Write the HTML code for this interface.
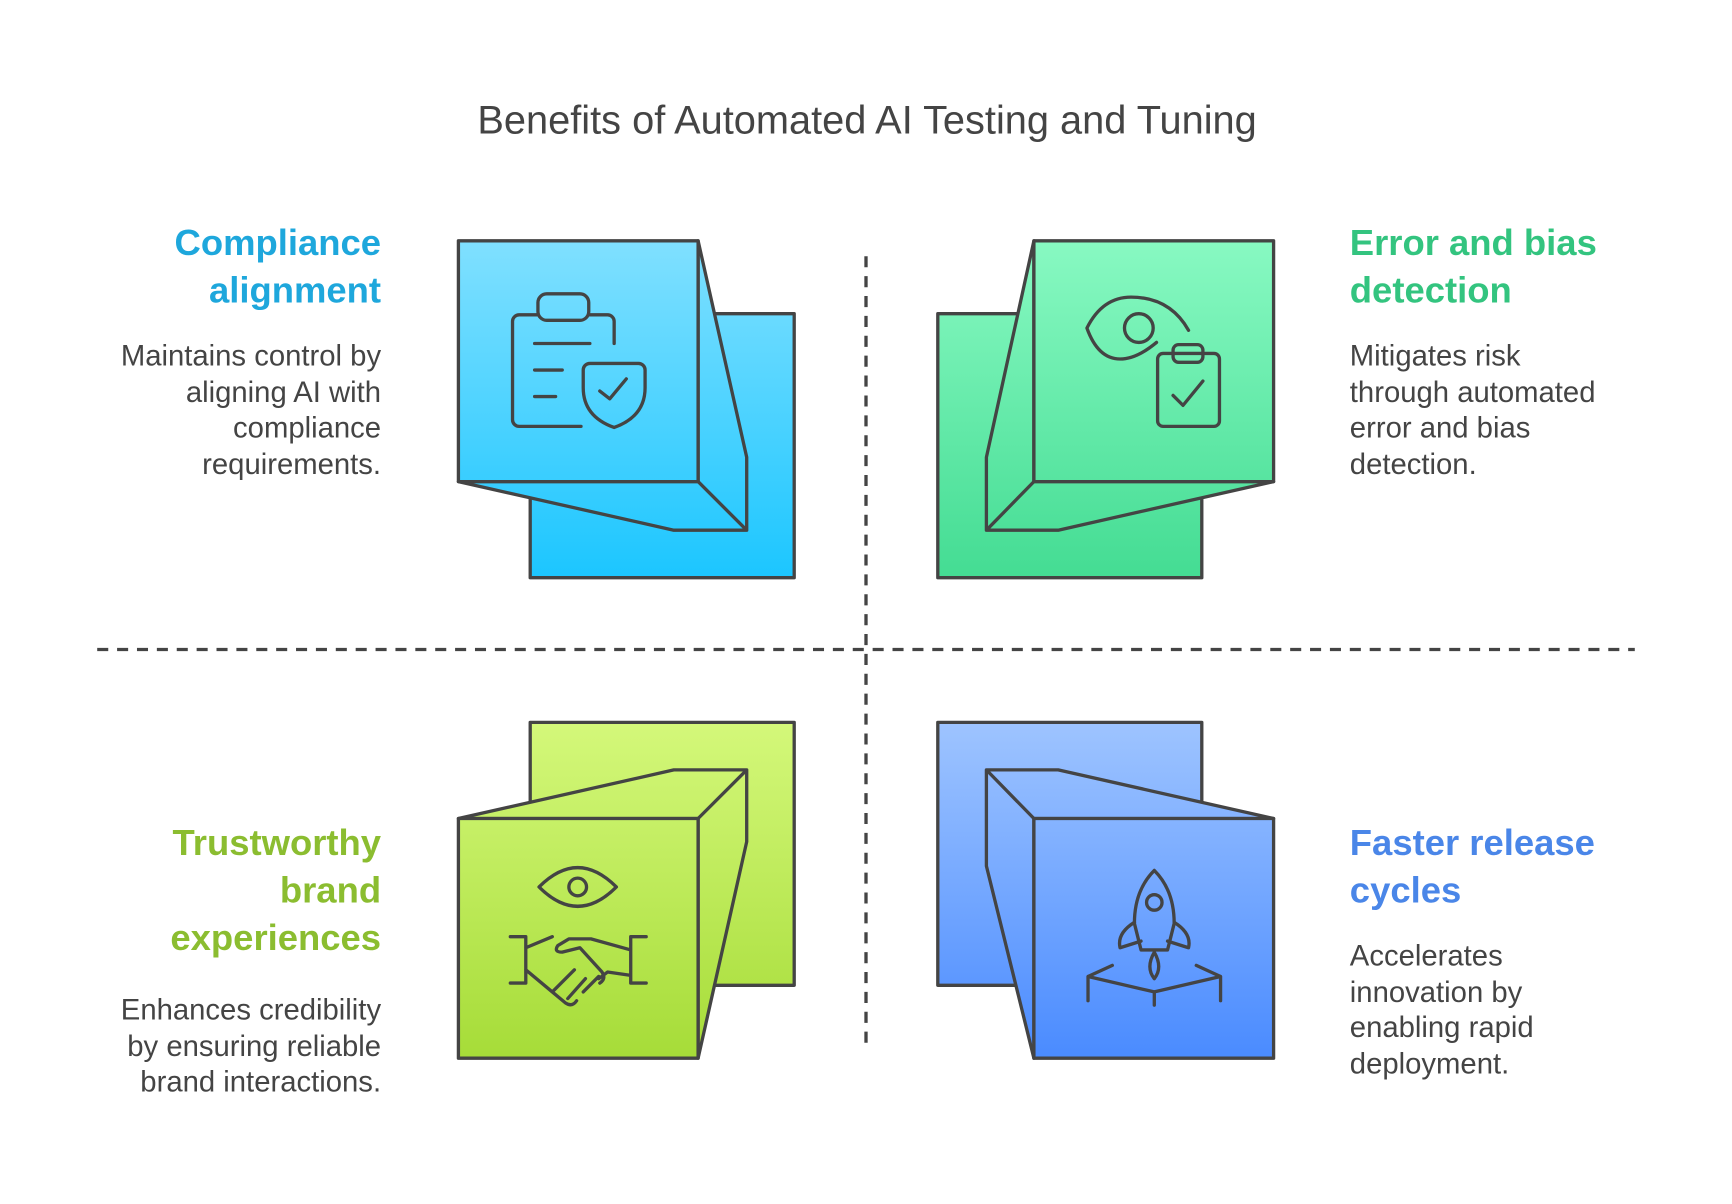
<!DOCTYPE html>
<html><head><meta charset="utf-8"><style>html,body{margin:0;padding:0;background:#fff}svg{display:block}</style></head>
<body>
<svg width="1732" height="1204" viewBox="0 0 1568 1090" xmlns="http://www.w3.org/2000/svg" font-family="Liberation Sans, sans-serif">
<defs>
<linearGradient id="gb" gradientUnits="userSpaceOnUse" x1="0" y1="218" x2="0" y2="523"><stop offset="0" stop-color="#80e0ff"/><stop offset="1" stop-color="#1cc6ff"/></linearGradient>
<linearGradient id="gg" gradientUnits="userSpaceOnUse" x1="0" y1="218" x2="0" y2="523"><stop offset="0" stop-color="#88f9c2"/><stop offset="1" stop-color="#44dc93"/></linearGradient>
<linearGradient id="gl" gradientUnits="userSpaceOnUse" x1="0" y1="654" x2="0" y2="958"><stop offset="0" stop-color="#d4f87a"/><stop offset="1" stop-color="#a6dc38"/></linearGradient>
<linearGradient id="gr" gradientUnits="userSpaceOnUse" x1="0" y1="654" x2="0" y2="958"><stop offset="0" stop-color="#9ec4ff"/><stop offset="1" stop-color="#4a8bff"/></linearGradient>
</defs>
<text x="785" y="121" text-anchor="middle" font-size="36" fill="#444">Benefits of Automated AI Testing and Tuning</text>
<g stroke="#444" stroke-width="3" stroke-dasharray="10 8" fill="none">
<line x1="784" y1="232" x2="784" y2="945"/><line x1="88" y1="588" x2="1480" y2="588"/>
</g>
<g stroke="#444" stroke-width="3" stroke-linejoin="round">
<rect x="480" y="284" width="239" height="239" fill="url(#gb)"/>
<polygon points="632,218 676,414 676,480 610,480 415,436 632,436" fill="url(#gb)"/>
<rect x="415" y="218" width="217" height="218" fill="url(#gb)"/>
<line x1="632" y1="436" x2="676" y2="480"/>
<rect x="849" y="284" width="239" height="239" fill="url(#gg)"/>
<polygon points="936,218 893,414 893,480 958,480 1153,436 936,436" fill="url(#gg)"/>
<rect x="936" y="218" width="217" height="218" fill="url(#gg)"/>
<line x1="936" y1="436" x2="893" y2="480"/>
<rect x="480" y="654" width="239" height="238" fill="url(#gl)"/>
<polygon points="415,741 610,697 676,697 676,762 632,958 632,741" fill="url(#gl)"/>
<rect x="415" y="741" width="217" height="217" fill="url(#gl)"/>
<line x1="632" y1="741" x2="676" y2="697"/>
<rect x="849" y="654" width="239" height="238" fill="url(#gr)"/>
<polygon points="1153,741 958,697 893,697 893,784 936,958 936,741" fill="url(#gr)"/>
<rect x="936" y="741" width="217" height="217" fill="url(#gr)"/>
<line x1="936" y1="741" x2="893" y2="697"/>
</g>
<g stroke="#444" stroke-width="3" fill="none" stroke-linecap="round" stroke-linejoin="round">
<path d="M533,285 h17 a6,6 0 0 1 6,6 v20"/>
<path d="M487,285 h-17 a6,6 0 0 0 -6,6 v89 a6,6 0 0 0 6,6 h56"/>
<rect x="487" y="266" width="46" height="24" rx="8"/>
<line x1="484" y1="311" x2="534" y2="311"/>
<line x1="484" y1="335" x2="509" y2="335"/><line x1="484" y1="359" x2="503" y2="359"/>
<path d="M528,335 a6,6 0 0 1 6,-6 h44 a6,6 0 0 1 6,6 v16 q0,26 -28,36 q-28,-10 -28,-36 z"/>
<path d="M543,354 l9,7 l15,-18"/>
<path d="M1047,310 q-18,15 -33,15 q-20,0 -30,-28 q14,-28 40,-28 q35,0 52,30"/>
<circle cx="1031" cy="297" r="13"/>
<rect x="1048" y="320" width="56" height="66" rx="5"/>
<rect x="1062" y="312" width="27" height="16" rx="5"/>
<path d="M1062,358 l9,9 l18,-22"/>
<path d="M488,803 q35,-35 70,0 q-35,35 -70,0 z"/><circle cx="523" cy="803" r="8"/>
<path d="M462,848 h14 v42 h-14 M585,848 h-14 v42 h14 M476,858 l24,-10 M571,860 l-36,-10 h-20 l-10,6 q-4,6 4,6 l16,-4 l20,22 q4,6 -2,10 M476,878 l24,20 l12,10 q6,4 10,-2 M500,898 l20,-20 M514,904 l16,-18 M528,898 l14,-14 M542,886 l8,-6 l21,3"/>
<path d="M1045,788 q-18,18 -18,48 l6,24 h24 l6,-24 q0,-30 -18,-48 z"/><circle cx="1045" cy="817" r="7"/>
<path d="M1027,835 q-16,10 -13,23 l19,-6 M1063,835 q16,10 13,23 l-19,-6 M1045,862 q-8,14 0,24 q8,-10 0,-24"/>
<path d="M985,906 v-22 l22,-10 M1105,906 v-22 l-22,-10 M985,884 l60,14 l60,-14 M1045,898 v12"/>
</g>
<g font-size="33" font-weight="bold">
<text x="345" y="231" text-anchor="end" fill="#1ea7dc">Compliance</text>
<text x="345" y="274" text-anchor="end" fill="#1ea7dc">alignment</text>
<text x="1222" y="231" fill="#33c47f">Error and bias</text>
<text x="1222" y="274" fill="#33c47f">detection</text>
<text x="345" y="774" text-anchor="end" fill="#8bbd30">Trustworthy</text>
<text x="345" y="817" text-anchor="end" fill="#8bbd30">brand</text>
<text x="345" y="860" text-anchor="end" fill="#8bbd30">experiences</text>
<text x="1222" y="774" fill="#4a86e8">Faster release</text>
<text x="1222" y="817" fill="#4a86e8">cycles</text>
</g>
<g font-size="26.5" fill="#444">
<g text-anchor="end">
<text x="345" y="331">Maintains control by</text><text x="345" y="364">aligning AI with</text><text x="345" y="396">compliance</text><text x="345" y="429">requirements.</text>
<text x="345" y="923">Enhances credibility</text><text x="345" y="956">by ensuring reliable</text><text x="345" y="988">brand interactions.</text>
</g>
<text x="1222" y="331">Mitigates risk</text><text x="1222" y="364">through automated</text><text x="1222" y="396">error and bias</text><text x="1222" y="429">detection.</text>
<text x="1222" y="874">Accelerates</text><text x="1222" y="907">innovation by</text><text x="1222" y="939">enabling rapid</text><text x="1222" y="972">deployment.</text>
</g>
</svg>
</body></html>
